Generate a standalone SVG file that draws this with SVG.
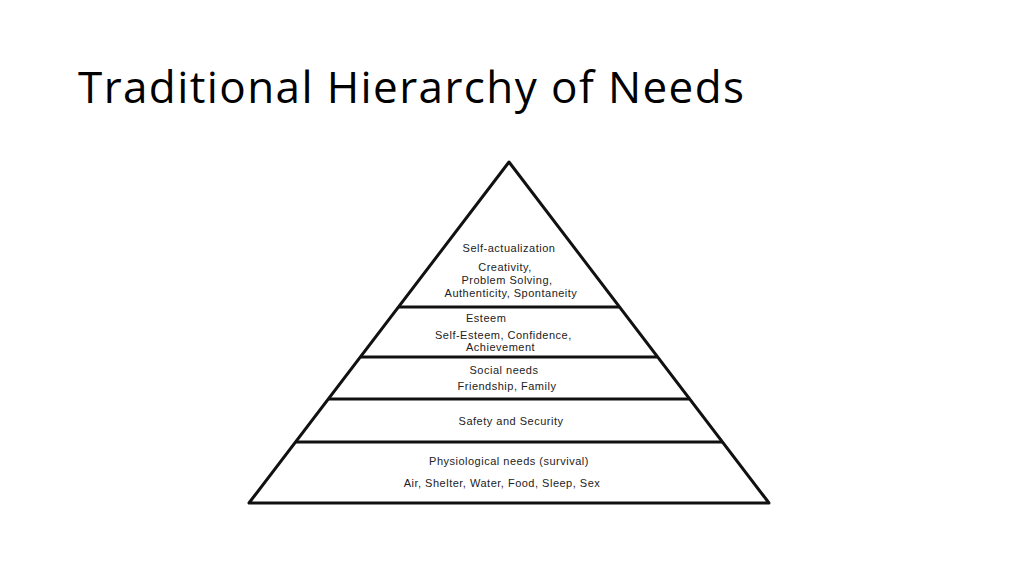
<svg xmlns="http://www.w3.org/2000/svg" width="1024" height="575" viewBox="0 0 1024 575">
<style>
.t{font-family:"Liberation Sans",Arial,sans-serif;font-size:11px;fill:#222;letter-spacing:0.5px}
.l{stroke:#111;stroke-width:3;fill:none}
</style>
<rect width="1024" height="575" fill="#fff"/>
<text x="78" y="103" font-family="'Open Sans',sans-serif" font-size="44" fill="#000" textLength="666">Traditional Hierarchy of Needs</text>
<g id="pyramid">
<polygon class="l" points="509,162 249,503 769,503" stroke-linejoin="round"/>
</g>
<g id="connectors">
<line class="l" x1="399" y1="307" x2="619" y2="307"/>
<line class="l" x1="361" y1="357" x2="657" y2="357"/>
<line class="l" x1="329" y1="399" x2="689" y2="399"/>
<line class="l" x1="296" y1="442" x2="722" y2="442"/>
</g>
<g id="self-actualization" class="t" text-anchor="middle">
<text x="509" y="252">Self-actualization</text>
<text x="505" y="271">Creativity,</text>
<text x="507" y="284">Problem Solving,</text>
<text x="511" y="297">Authenticity, Spontaneity</text>
</g>
<g id="esteem" class="t">
<text x="466" y="322">Esteem</text>
<text x="435" y="339">Self-Esteem, Confidence,</text>
<text x="466" y="351">Achievement</text>
</g>
<g id="social" class="t" text-anchor="middle">
<text x="504" y="374">Social needs</text>
<text x="507" y="390">Friendship, Family</text>
</g>
<g id="safety" class="t" text-anchor="middle">
<text x="511" y="425">Safety and Security</text>
</g>
<g id="physiological" class="t" text-anchor="middle">
<text x="509" y="465">Physiological needs (survival)</text>
<text x="502" y="487">Air, Shelter, Water, Food, Sleep, Sex</text>
</g>
</svg>
